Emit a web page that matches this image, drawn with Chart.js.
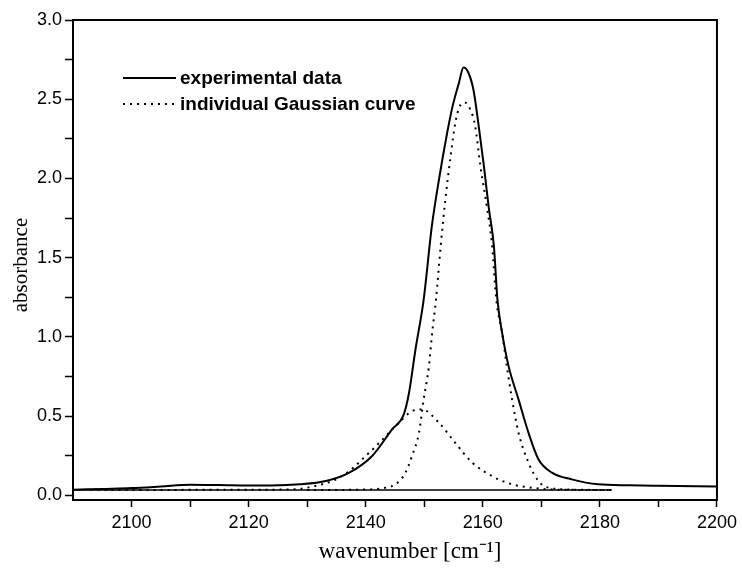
<!DOCTYPE html>
<html>

<head>
  <meta charset="utf-8" />
  <script src="https://cdn.jsdelivr.net/npm/chart.js"></script>
  <style>
    body { margin: 0; background: #fff; }
    #wrap { width: 742px; height: 574px; }
  </style>
</head>

<body>
  <div id="wrap"><canvas id="irChart"></canvas></div>

  <script>
    // experimental spectrum
    var expX = [2090, 2095, 2100, 2105, 2110, 2115, 2120, 2125, 2128.7, 2133.2, 2137.2, 2141.1, 2144.5, 2146.5, 2147.4,
      2148.5, 2149.9, 2151.3, 2152.5, 2153.9, 2154.8, 2155.9, 2156.7, 2157.5, 2158.4, 2159.3, 2160.2, 2161.0, 2161.9,
      2162.5, 2163.3, 2164.4, 2166.1, 2167.8, 2169.5, 2171.8, 2175.2, 2179.7, 2185, 2190, 2200];
    var expY = [0.035, 0.04, 0.045, 0.055, 0.066, 0.064, 0.061, 0.063, 0.069, 0.09, 0.143, 0.248, 0.416, 0.51, 0.647,
      0.92, 1.235, 1.70, 1.99, 2.285, 2.45, 2.60, 2.70, 2.67, 2.56, 2.33, 2.075, 1.82, 1.57,
      1.235, 1.025, 0.815, 0.605, 0.395, 0.227, 0.143, 0.10, 0.069, 0.063, 0.06, 0.055];

    // main Gaussian component
    var g1X = [2130, 2140, 2143.4, 2145.1, 2146.8, 2147.9, 2149.1, 2149.9, 2150.8, 2151.35, 2152.0, 2152.8, 2153.6,
      2154.5, 2155.3, 2156.0, 2156.9, 2157.8, 2158.7, 2159.6, 2160.7, 2161.6, 2162.3, 2163.3, 2164.1, 2165.0, 2166.1,
      2167.8, 2169.5, 2171.2, 2175, 2182];
    var g1Y = [0.033, 0.036, 0.048, 0.069, 0.143, 0.248, 0.395, 0.605, 0.815, 1.025, 1.235, 1.57, 1.865,
      2.14, 2.35, 2.45, 2.48, 2.44, 2.33, 2.075, 1.82, 1.57, 1.235, 1.025, 0.815, 0.605, 0.395,
      0.206, 0.09, 0.048, 0.036, 0.033];

    // second, low Gaussian component
    var g2X = [2093, 2110, 2122, 2128, 2131.5, 2134.3, 2137.2, 2140.0, 2142.3, 2145.1, 2147.9, 2149.6, 2152.5, 2155.3,
      2158.2, 2161.6, 2165.0, 2168.3, 2172, 2182];
    var g2Y = [0.033, 0.034, 0.035, 0.038, 0.06, 0.09, 0.153, 0.248, 0.33, 0.437, 0.53, 0.542, 0.458, 0.33,
      0.206, 0.12, 0.069, 0.048, 0.036, 0.033];

    // fit baseline
    var baseX = [2090, 2182];
    var baseY = [0.033, 0.033];

    var xTicks = [2100, 2110, 2120, 2130, 2140, 2150, 2160, 2170, 2180, 2190, 2200];
    var yTicks = [0, 0.25, 0.5, 0.75, 1, 1.25, 1.5, 1.75, 2, 2.25, 2.5, 2.75, 3];

    var xTitle = 'wavenumber [cm\u207B\u00B9]';
    var yTitle = 'absorbance';

    function pts(xs, ys) {
      return xs.map(function (x, i) { return { x: x, y: ys[i] }; });
    }

    // frame round the plot area
    var framePlugin = {
      id: 'frame',
      afterDraw: function (chart) {
        var a = chart.chartArea, c = chart.ctx;
        c.save();
        c.strokeStyle = '#000';
        c.lineWidth = 2;
        c.strokeRect(a.left, a.top, a.right - a.left, a.bottom - a.top);
        c.restore();
      }
    };

    // axis titles, placed like the original (a bit off the centre)
    var titlePlugin = {
      id: 'axisTitles',
      afterDraw: function (chart) {
        var a = chart.chartArea, c = chart.ctx;
        c.save();
        c.fillStyle = '#000';
        c.textAlign = 'center';
        c.textBaseline = 'middle';
        c.font = '23px "Liberation Serif", "Times New Roman", serif';
        c.fillText(xTitle, a.left + 337, a.bottom + 52);
        c.translate(21, a.top + 245);
        c.rotate(-Math.PI / 2);
        c.font = '21px "Liberation Serif", "Times New Roman", serif';
        c.fillText(yTitle, 0, 0);
        c.restore();
      }
    };

    // legend inside the plot, top left
    var legendPlugin = {
      id: 'inLegend',
      afterDraw: function (chart) {
        var a = chart.chartArea, c = chart.ctx;
        var items = chart.data.datasets.filter(function (d) { return d.inLegend; });
        c.save();
        c.font = 'bold 19px "Liberation Sans", Arial, sans-serif';
        c.textBaseline = 'middle';
        c.fillStyle = '#000';
        items.forEach(function (d, i) {
          var y = a.top + 58 + i * 26;
          c.beginPath();
          c.strokeStyle = '#000';
          c.lineWidth = d.borderWidth;
          c.setLineDash(d.borderDash || []);
          c.moveTo(a.left + 50, y);
          c.lineTo(a.left + 103, y);
          c.stroke();
          c.setLineDash([]);
          c.fillText(d.label, a.left + 107, y + 1);
        });
        c.restore();
      }
    };

    var tickFont = { family: '"Liberation Sans", Arial, sans-serif', size: 18 };

    new Chart(document.getElementById('irChart'), {
      type: 'line',
      data: {
        datasets: [{
          label: 'experimental data',
          inLegend: true,
          data: pts(expX, expY),
          borderColor: '#000',
          borderWidth: 2,
          pointRadius: 0,
          cubicInterpolationMode: 'monotone'
        }, {
          label: 'individual Gaussian curve',
          inLegend: true,
          data: pts(g1X, g1Y),
          borderColor: '#000',
          borderWidth: 2,
          borderDash: [2, 5],
          pointRadius: 0,
          cubicInterpolationMode: 'monotone'
        }, {
          label: 'Gaussian 2',
          data: pts(g2X, g2Y),
          borderColor: '#000',
          borderWidth: 2,
          borderDash: [2, 5],
          pointRadius: 0,
          cubicInterpolationMode: 'monotone'
        }, {
          label: 'baseline',
          data: pts(baseX, baseY),
          borderColor: '#000',
          borderWidth: 1.5,
          pointRadius: 0
        }]
      },
      options: {
        responsive: true,
        maintainAspectRatio: false,
        animation: false,
        layout: { padding: { left: 0, right: 23, top: 20, bottom: 0 } },
        plugins: {
          legend: { display: false },
          tooltip: { enabled: false }
        },
        scales: {
          x: {
            type: 'linear',
            min: 2090,
            max: 2200,
            afterBuildTicks: function (s) { s.ticks = xTicks.map(function (v) { return { value: v }; }); },
            afterFit: function (s) { s.height = 74; },
            ticks: {
              autoSkip: false,
              maxRotation: 0,
              color: '#000',
              font: tickFont,
              padding: 5,
              callback: function (v) { return v % 20 === 0 ? String(v) : ''; }
            },
            grid: { drawOnChartArea: false, tickLength: 7, tickWidth: 1.5, tickColor: '#000' },
            border: { display: false }
          },
          y: {
            min: -0.03,
            max: 3.0,
            afterBuildTicks: function (s) { s.ticks = yTicks.map(function (v) { return { value: v }; }); },
            afterFit: function (s) { s.width = 73; },
            ticks: {
              autoSkip: false,
              color: '#000',
              font: tickFont,
              padding: 3,
              callback: function (v) { return (v * 2) % 1 === 0 ? v.toFixed(1) : ''; }
            },
            grid: { drawOnChartArea: false, tickLength: 8, tickWidth: 1.5, tickColor: '#000' },
            border: { display: false }
          }
        }
      },
      plugins: [framePlugin, titlePlugin, legendPlugin]
    });
  </script>
</body>

</html>
